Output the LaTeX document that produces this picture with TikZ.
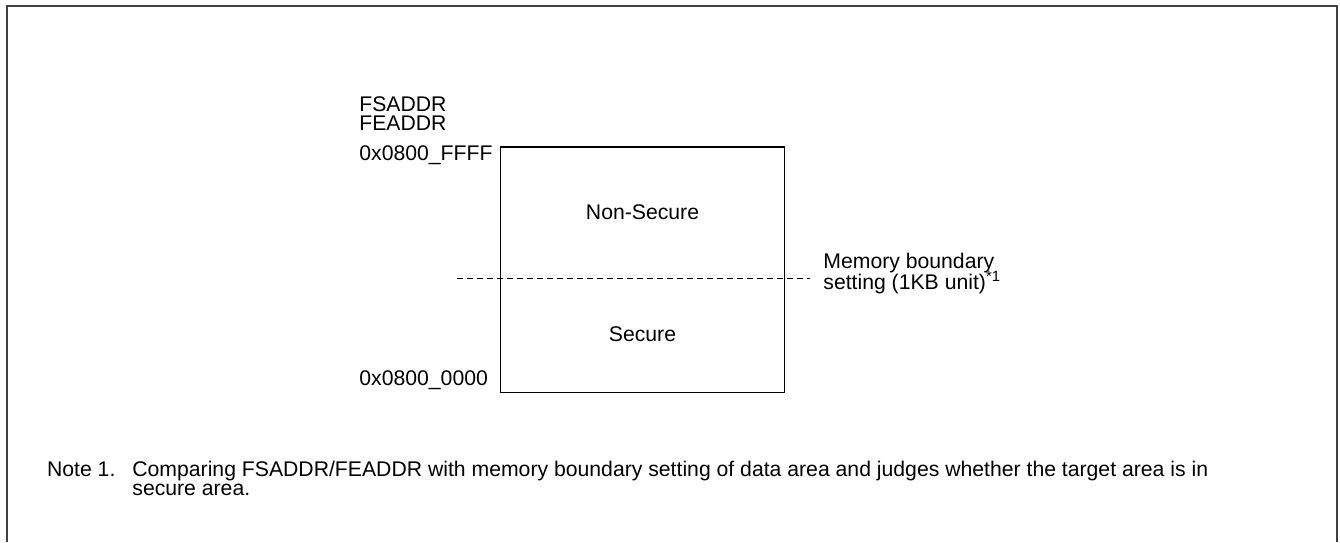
\documentclass[tikz,border=0pt]{standalone}
\usepackage{fontspec}
\setmainfont{Liberation Sans}
\usetikzlibrary{positioning}
\definecolor{FrameGray}{HTML}{404040}

\begin{document}
\begin{tikzpicture}[x=.5pt,y=-.5pt,
    lbl/.style={font=\fontsize{10.6}{12}\selectfont,inner sep=0pt,anchor=base west},
    regionbox/.style={draw=black,line width=.75pt,inner sep=0pt,minimum width=141.8pt,minimum height=122.6pt},
    boundaryline/.style={black,dash pattern=on 3pt off 2pt,line width=.45pt}]
    \useasboundingbox (0,0) rectangle (1340,542);
    \draw[FrameGray,line width=1pt] (7,542)--(7,5.5)--(1337,5.5)--(1337,542);
    % memory map
    \node[regionbox] (mem) at (642.5,269.7) {};
    \node[lbl,anchor=base] (nsec) at (642.5,219) {Non-Secure};
    \node[lbl,anchor=base] (sec) at (642.5,341) {Secure};
    \coordinate (bndL) at (457,278.3);
    \coordinate (bndR) at (810,278.3);
    \draw[boundaryline] (bndL)--(bndR);
    \node[lbl] (bnd1) at (823,268) {Memory boundary};
    \node[lbl] (bnd2) at (823,289) {setting (1KB unit)\textsuperscript{*1}};
    % address labels
    \node[lbl] (fsaddr) at (359,111.7) {FSADDR};
    \node[lbl] (feaddr) at (359,130) {FEADDR};
    \node[lbl] (top) at (359,160) {0x0800\_FFFF};
    \node[lbl] (bot) at (359,385) {0x0800\_0000};
    % note
    \node[lbl] (note) at (46.7,476) {Note 1.};
    \node[lbl] (note1) at (132,476) {Comparing FSADDR/FEADDR with memory boundary setting of data area and judges whether the target area is in};
    \node[lbl] (note2) at (132,495) {secure area.};
\end{tikzpicture}
\end{document}
